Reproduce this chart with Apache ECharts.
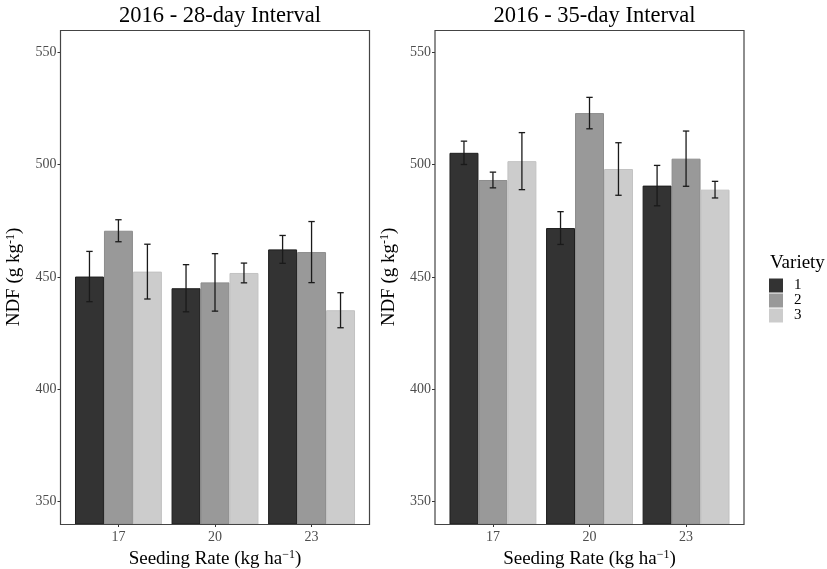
<!DOCTYPE html>
<html>
<head>
<meta charset="utf-8">
<script src="https://cdn.jsdelivr.net/npm/echarts@6/dist/echarts.min.js"></script>
<style>
html,body{margin:0;padding:0;background:#fff;}
#chart{width:827px;height:569px;}
</style>
</head>
<body>
<div id="chart"></div>
<script>
// ---- data ----
const categories = ['17', '20', '23'];
const varieties = ['1', '2', '3'];
const yTicks = [350, 400, 450, 500, 550];
const titles = ['2016 - 28-day Interval', '2016 - 35-day Interval'];

const ndf28_v1 = [450.2, 445.0, 462.3];
const ndf28_v2 = [470.6, 447.6, 461.1];
const ndf28_v3 = [452.4, 451.8, 435.2];
const se28_v1 = [11.2, 10.5, 6.2];
const se28_v2 = [4.9, 12.8, 13.6];
const se28_v3 = [12.2, 4.4, 7.8];

const ndf35_v1 = [505.3, 471.8, 490.7];
const ndf35_v2 = [493.2, 523.0, 502.7];
const ndf35_v3 = [501.6, 498.1, 488.9];
const se35_v1 = [5.2, 7.3, 9.0];
const se35_v2 = [3.5, 7.0, 12.3];
const se35_v3 = [12.7, 11.7, 3.7];

// ---- styling / layout ----
const FONT = 'Liberation Serif';
const fills = ['#333333', '#999999', '#cccccc'];
const borders = ['#1e1e1e', '#8c8c8c', '#c2c2c2'];
const frames = [{x: 60.5, w: 309}, {x: 435, w: 309}];
const frameTop = 30, frameH = 494;

const panels = [
  {means: [ndf28_v1, ndf28_v2, ndf28_v3], ses: [se28_v1, se28_v2, se28_v3]},
  {means: [ndf35_v1, ndf35_v2, ndf35_v3], ses: [se35_v1, se35_v2, se35_v3]}
];

const grids = [], xAxes = [], yAxes = [], series = [], titleComps = [], graphics = [];

frames.forEach(function (f, p) {
  const unit = f.w / 3.2;
  grids.push({left: f.x + unit * 0.1, top: frameTop, width: unit * 3, height: frameH,
    show: false, containLabel: false, outerBoundsMode: 'none'});
  xAxes.push({
    type: 'category', gridIndex: p, data: categories,
    axisLine: {show: false},
    axisTick: {show: true, alignWithLabel: true, length: 3, lineStyle: {color: '#333'}},
    axisLabel: {fontFamily: FONT, fontSize: 14, color: '#4d4d4d', margin: 6},
    name: 'Seeding Rate (kg ha{sup|\u22121})',
    nameLocation: 'middle', nameGap: 23,
    nameTextStyle: {fontFamily: FONT, fontSize: 19, color: '#000',
      rich: {sup: {fontFamily: FONT, fontSize: 12, color: '#000', verticalAlign: 'top', padding: [0, 0, 8, 0]}}}
  });
  yAxes.push({
    type: 'value', gridIndex: p, min: 340, max: 560,
    offset: unit * 0.1,
    splitLine: {show: false},
    axisLine: {show: false},
    axisTick: {show: true, length: 3, lineStyle: {color: '#333'}, customValues: yTicks},
    axisLabel: {fontFamily: FONT, fontSize: 14, color: '#4d4d4d', margin: 4, customValues: yTicks},
    name: 'NDF (g kg{sup|-1})',
    nameLocation: 'middle', nameGap: 36, nameRotate: 90,
    nameTextStyle: {fontFamily: FONT, fontSize: 19, color: '#000',
      rich: {sup: {fontFamily: FONT, fontSize: 12, color: '#000', verticalAlign: 'top', padding: [0, 0, 8, 0]}}}
  });
  titleComps.push({
    text: titles[p], left: f.x + f.w / 2, top: 0, textAlign: 'center',
    textStyle: {fontFamily: FONT, fontSize: 22.5, fontWeight: 'normal', color: '#000'}
  });
  graphics.push({
    type: 'rect', z: 100, silent: true,
    shape: {x: f.x, y: frameTop + 0.5, width: f.w, height: frameH},
    style: {fill: 'none', stroke: '#444', lineWidth: 1.2}
  });

  const pd = panels[p];
  varieties.forEach(function (v, k) {
    series.push({
      type: 'bar', name: v, xAxisIndex: p, yAxisIndex: p,
      data: pd.means[k], barWidth: '30%', barGap: '0%',
      itemStyle: {color: fills[k], borderColor: borders[k], borderWidth: 1},
      clip: true, animation: false
    });
  });
  const ebData = [];
  varieties.forEach(function (v, k) {
    categories.forEach(function (c, i) {
      ebData.push([i, pd.means[k][i] - pd.ses[k][i], pd.means[k][i] + pd.ses[k][i], k]);
    });
  });
  series.push({
    type: 'custom', xAxisIndex: p, yAxisIndex: p, z: 10, animation: false,
    data: ebData, encode: {x: 0, y: [1, 2]},
    renderItem: function (params, api) {
      const i = api.value(0), lo = api.value(1), hi = api.value(2), k = api.value(3);
      const band = api.size([1, 0])[0];
      const pLo = api.coord([i, lo]);
      const pHi = api.coord([i, hi]);
      const x = pLo[0] + (k - 1) * band * 0.3;
      const cap = 3.2;
      const st = {stroke: '#1a1a1a', lineWidth: 1.3};
      return {
        type: 'group',
        children: [
          {type: 'line', shape: {x1: x, y1: pLo[1], x2: x, y2: pHi[1]}, style: st},
          {type: 'line', shape: {x1: x - cap, y1: pLo[1], x2: x + cap, y2: pLo[1]}, style: st},
          {type: 'line', shape: {x1: x - cap, y1: pHi[1], x2: x + cap, y2: pHi[1]}, style: st}
        ]
      };
    }
  });
});

titleComps.push({
  text: 'Variety', left: 765, top: 249,
  textStyle: {fontFamily: FONT, fontSize: 19, fontWeight: 'normal', color: '#000'}
});

const chart = echarts.init(document.getElementById('chart'), null, {renderer: 'canvas'});
chart.setOption({
  backgroundColor: '#fff',
  animation: false,
  title: titleComps,
  grid: grids,
  xAxis: xAxes,
  yAxis: yAxes,
  legend: {
    data: varieties, orient: 'vertical', left: 769, top: 278,
    icon: 'rect', itemWidth: 14, itemHeight: 14, itemGap: 0,
    padding: 0,
    itemStyle: {borderWidth: 0},
    textStyle: {fontFamily: FONT, fontSize: 15, color: '#000', lineHeight: 14, padding: [0, 0, 0, 6]}
  },
  graphic: graphics,
  series: series
});
</script>
</body>
</html>
